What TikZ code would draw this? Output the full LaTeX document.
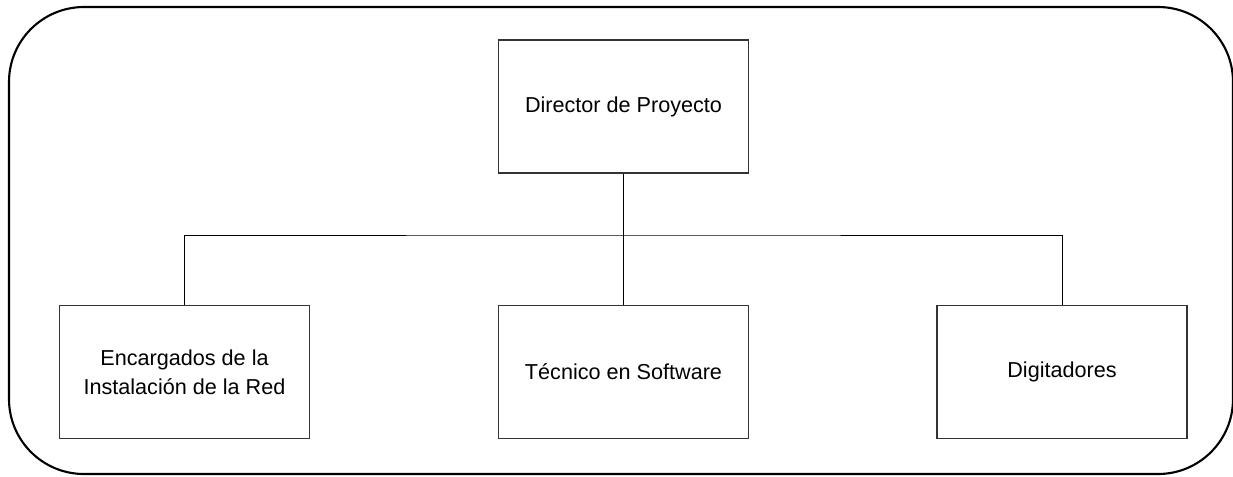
\documentclass[tikz,border=0pt]{standalone}
\usepackage{fontspec}
\setmainfont{Liberation Sans}
\begin{document}
\begin{tikzpicture}[
  role/.style={draw=black!80, line width=0.6pt, rectangle, minimum width=5cm, minimum height=2.66cm, inner sep=0pt, align=center, font=\fontsize{12.3}{16.5}\selectfont},
  link/.style={draw=black, line width=0.5pt}]
\useasboundingbox (0,0) rectangle (24.66,-9.52);
\draw[line width=1.2pt, rounded corners=1.5cm] (0.18,-0.14) rectangle (24.66,-9.48);
\node[role] (dir) at (12.47,-2.13) {Director de Proyecto};
\node[role] (red) at (3.69,-7.44) {Encargados de la\\Instalación de la Red};
\node[role] (tec) at (12.47,-7.44) {Técnico en Software};
\node[role] (dig) at (21.24,-7.44) {Digitadores};
\coordinate (bus) at (12.47,-4.7);
\draw[link] (dir) -- (tec);
\draw[link] (red.north) |- (bus) -| (dig.north);
\end{tikzpicture}
\end{document}
